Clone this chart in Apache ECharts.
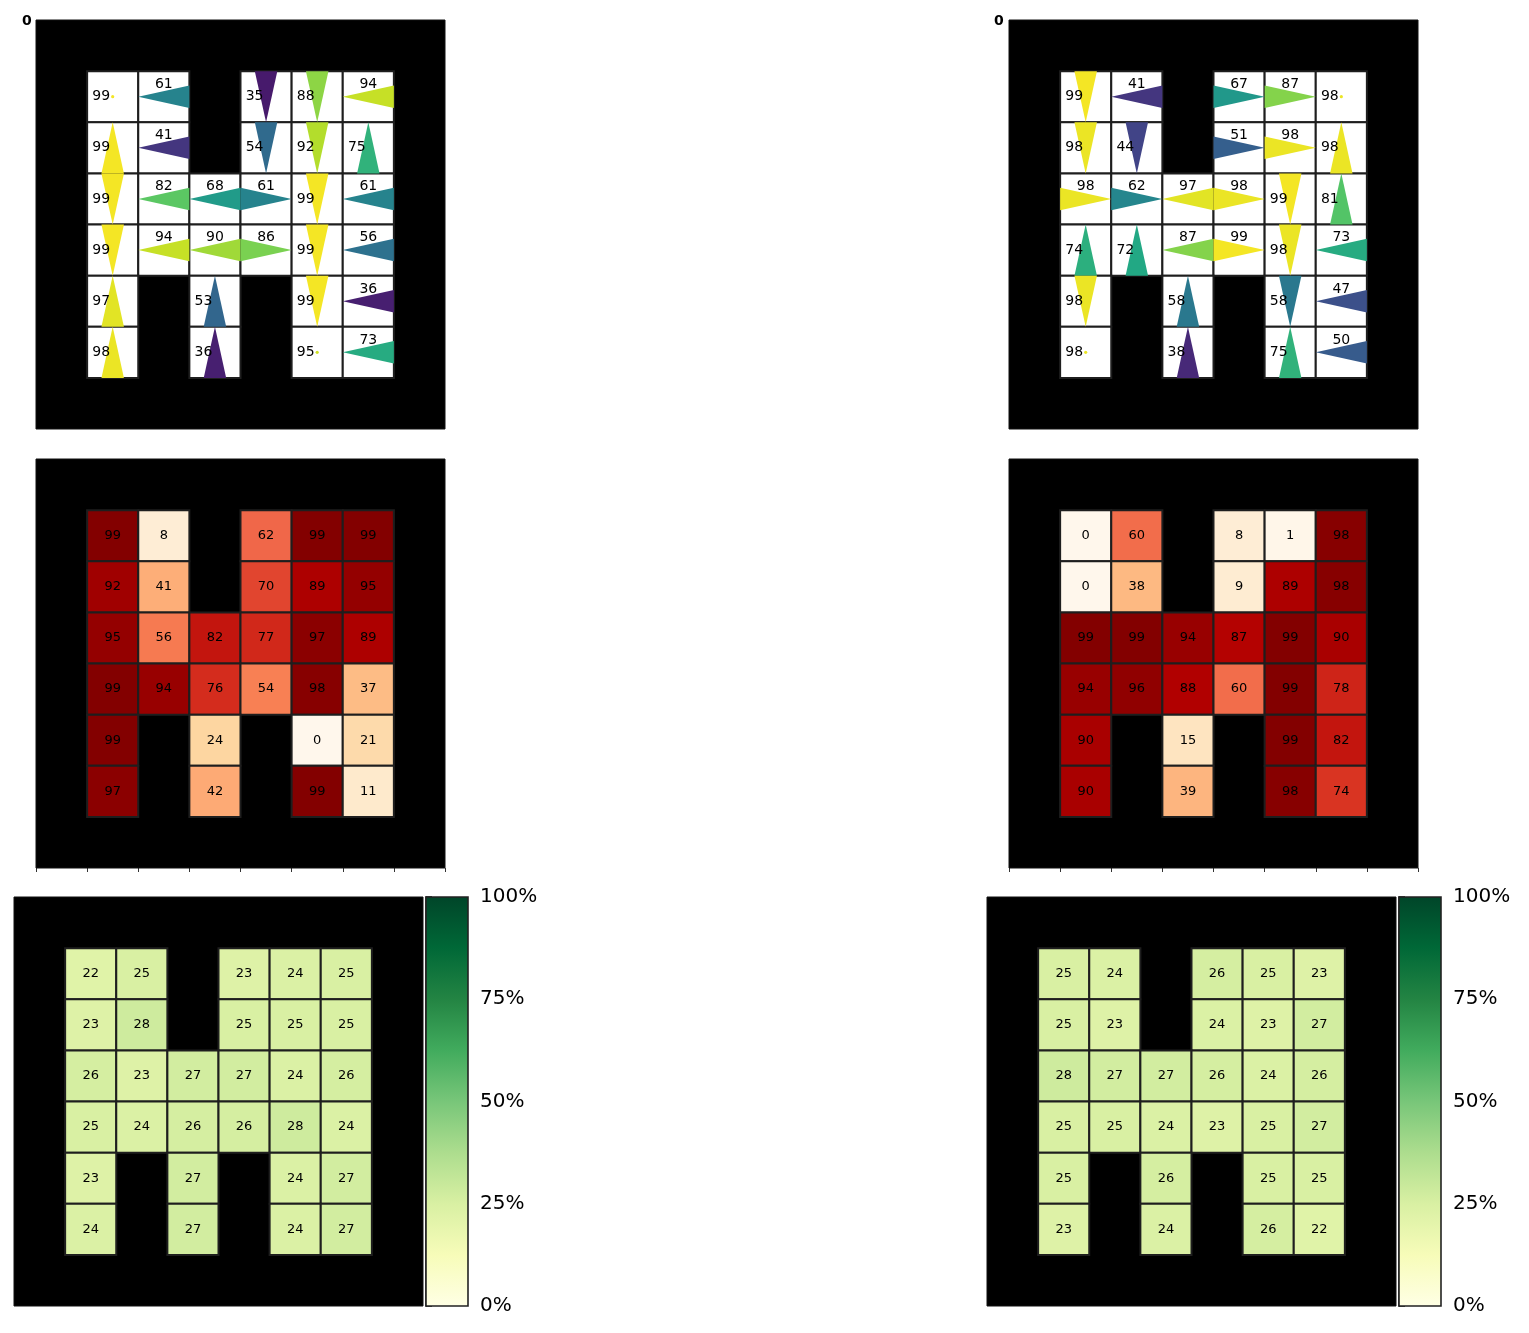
<!DOCTYPE html>
<html><head><meta charset="utf-8">
<script src="https://cdn.jsdelivr.net/npm/echarts@6/dist/echarts.min.js"></script>
<style>html,body{margin:0;padding:0;background:#fff}#chart{width:1529px;height:1333px}</style>
</head><body><div id="chart"></div>
<script>
// ---------------- DATA ----------------
const mazeRows = [
  "########",
  "#..#...#",
  "#..#...#",
  "#......#",
  "#......#",
  "#.#.#..#",
  "#.#.#..#",
  "########"
];
// Policy panels (interior 6x6, top row first); null = wall
const policyLeftProb = [
  [99, 61, null, 35, 88, 94],
  [99, 41, null, 54, 92, 75],
  [99, 82, 68, 61, 99, 61],
  [99, 94, 90, 86, 99, 56],
  [97, null, 53, null, 99, 36],
  [98, null, 36, null, 95, 73]
];
const policyLeftAction = [
  ["S", "L", null, "D", "D", "L"],
  ["U", "L", null, "D", "D", "U"],
  ["D", "L", "L", "R", "D", "L"],
  ["D", "L", "L", "R", "D", "L"],
  ["U", null, "U", null, "D", "L"],
  ["U", null, "U", null, "S", "L"]
];
const policyRightProb = [
  [99, 41, null, 67, 87, 98],
  [98, 44, null, 51, 98, 98],
  [98, 62, 97, 98, 99, 81],
  [74, 72, 87, 99, 98, 73],
  [98, null, 58, null, 58, 47],
  [98, null, 38, null, 75, 50]
];
const policyRightAction = [
  ["D", "L", null, "R", "R", "S"],
  ["D", "D", null, "R", "R", "U"],
  ["R", "R", "L", "R", "D", "U"],
  ["U", "U", "L", "R", "D", "L"],
  ["D", null, "U", null, "D", "L"],
  ["S", null, "U", null, "U", "L"]
];
// Value panels (OrRd)
const valueLeft = [
  [99, 8, null, 62, 99, 99],
  [92, 41, null, 70, 89, 95],
  [95, 56, 82, 77, 97, 89],
  [99, 94, 76, 54, 98, 37],
  [99, null, 24, null, 0, 21],
  [97, null, 42, null, 99, 11]
];
const valueRight = [
  [0, 60, null, 8, 1, 98],
  [0, 38, null, 9, 89, 98],
  [99, 99, 94, 87, 99, 90],
  [94, 96, 88, 60, 99, 78],
  [90, null, 15, null, 99, 82],
  [90, null, 39, null, 98, 74]
];
// Visit share panels (YlGn, percent)
const visitLeft = [
  [22, 25, null, 23, 24, 25],
  [23, 28, null, 25, 25, 25],
  [26, 23, 27, 27, 24, 26],
  [25, 24, 26, 26, 28, 24],
  [23, null, 27, null, 24, 27],
  [24, null, 27, null, 24, 27]
];
const visitRight = [
  [25, 24, null, 26, 25, 23],
  [25, 23, null, 24, 23, 27],
  [28, 27, 27, 26, 24, 26],
  [25, 25, 24, 23, 25, 27],
  [25, null, 26, null, 25, 25],
  [23, null, 24, null, 26, 22]
];
const colorbarRange = [0, 100];
const cornerLabel = "0";

// ---------------- COLORMAPS ----------------
const VIRIDIS = ['#440154','#482475','#414487','#355f8d','#2a788e','#21918c','#22a884','#44bf70','#7ad151','#bddf26','#fde725'];
const ORRD = ['#fff7ec','#fee8c8','#fdd49e','#fdbb84','#fc8d59','#ef6548','#d7301f','#b30000','#7f0000'];
const YLGN = ['#ffffe5','#f7fcb9','#d9f0a3','#addd8e','#78c679','#41ab5d','#238443','#006837','#004529'];
function hex2rgb(h){return [parseInt(h.substr(1,2),16),parseInt(h.substr(3,2),16),parseInt(h.substr(5,2),16)];}
function sample(stops, t){
  t = Math.max(0, Math.min(1, t));
  const f = t*(stops.length-1); const i = Math.min(Math.floor(f), stops.length-2); const u = f-i;
  const a = hex2rgb(stops[i]), b = hex2rgb(stops[i+1]);
  return 'rgb('+a.map((v,k)=>Math.round(v+(b[k]-v)*u)).join(',')+')';
}

const FONT = 'DejaVu Sans';
const allCells = [];
for (let r = 0; r < 8; r++) for (let c = 0; c < 8; c++) allCells.push([c, r]);
const openCells = allCells.filter(([c, r]) => mazeRows[r][c] !== '#');

function wallSeries(gi) {
  return {
    type: 'custom', xAxisIndex: gi, yAxisIndex: gi, data: [[0, 0, 8, 8]], silent: true, z: 1,
    renderItem(params, api) {
      const p0 = api.coord([api.value(0), api.value(1)]);
      const p1 = api.coord([api.value(2), api.value(3)]);
      return { type: 'rect', shape: { x: p0[0], y: p0[1], width: p1[0] - p0[0], height: p1[1] - p0[1] },
        style: { fill: '#000', stroke: '#111', lineWidth: 1 } };
    }
  };
}

function cellSeries(gi, vals, stops, vmin, vmax, fontSize) {
  return {
    type: 'custom', xAxisIndex: gi, yAxisIndex: gi, data: openCells, silent: true, z: 2,
    renderItem(params, api) {
      const c = api.value(0), r = api.value(1);
      const p0 = api.coord([c, r]), p1 = api.coord([c + 1, r + 1]);
      const x = p0[0], y = p0[1], w = p1[0] - p0[0], h = p1[1] - p0[1];
      const v = vals ? vals[r - 1][c - 1] : null;
      const fill = vals ? sample(stops, (v - vmin) / (vmax - vmin)) : '#fff';
      const children = [{ type: 'rect', shape: { x, y, width: w, height: h }, style: { fill, stroke: '#1e1e1e', lineWidth: 2 } }];
      if (vals && fontSize) {
        children.push({ type: 'text', style: { text: String(v), x: x + w / 2, y: y + h / 2, align: 'center', verticalAlign: 'middle', fontSize, fontFamily: FONT, fill: '#000' } });
      }
      return { type: 'group', children };
    }
  };
}

function arrowSeries(gi, probs, acts) {
  return {
    type: 'custom', xAxisIndex: gi, yAxisIndex: gi, data: openCells, silent: true, z: 3,
    renderItem(params, api) {
      const c = api.value(0), r = api.value(1);
      const p0 = api.coord([c, r]), p1 = api.coord([c + 1, r + 1]);
      const x = p0[0], y = p0[1], w = p1[0] - p0[0], h = p1[1] - p0[1];
      const cx = x + w / 2, cy = y + h / 2;
      const v = probs[r - 1][c - 1], a = acts[r - 1][c - 1];
      const col = sample(VIRIDIS, (v - 30) / 70);
      const hw = 0.22 * w, hh = 0.22 * h;
      let pts = null;
      if (a === 'L') pts = [[x, cy], [x + w, cy - hh], [x + w, cy + hh]];
      if (a === 'R') pts = [[x + w, cy], [x, cy - hh], [x, cy + hh]];
      if (a === 'U') pts = [[cx, y], [cx - hw, y + h], [cx + hw, y + h]];
      if (a === 'D') pts = [[cx, y + h], [cx - hw, y], [cx + hw, y]];
      const children = [];
      if (pts) children.push({ type: 'polygon', shape: { points: pts }, style: { fill: col } });
      else children.push({ type: 'circle', shape: { cx, cy, r: 1.6 }, style: { fill: col } });
      let tx = cx - 0.225 * w, ty = cy;
      if (a === 'L' || a === 'R') { tx = cx; ty = cy - 0.24 * h; }
      children.push({ type: 'text', style: { text: String(v), x: tx, y: ty, align: 'center', verticalAlign: 'middle', fontSize: 14, fontFamily: FONT, fill: '#000' } });
      return { type: 'group', children };
    }
  };
}

function colorbarSeries(gi, stops) {
  return {
    type: 'custom', xAxisIndex: gi, yAxisIndex: gi, data: [[0, colorbarRange[0], 1, colorbarRange[1]]], silent: true,
    renderItem(params, api) {
      const p0 = api.coord([api.value(0), api.value(3)]);
      const p1 = api.coord([api.value(2), api.value(1)]);
      const gs = stops.map((s, i) => ({ offset: i / (stops.length - 1), color: s }));
      return { type: 'rect', shape: { x: p0[0], y: p0[1], width: p1[0] - p0[0], height: p1[1] - p0[1] },
        style: { fill: new echarts.graphic.LinearGradient(0, 1, 0, 0, gs), stroke: '#222', lineWidth: 1.6 } };
    }
  };
}

const S = 409;
const grids = [
  { left: 36, top: 20, width: S, height: S },
  { left: 1009, top: 20, width: S, height: S },
  { left: 36, top: 459, width: S, height: S },
  { left: 1009, top: 459, width: S, height: S },
  { left: 14, top: 897, width: S, height: S },
  { left: 987, top: 897, width: S, height: S },
  { left: 426, top: 897, width: 42, height: S },
  { left: 1399, top: 897, width: 42, height: S }
];
const xAxes = [], yAxes = [];
for (let i = 0; i < 6; i++) {
  const ticks = (i === 2 || i === 3);
  xAxes.push({ gridIndex: i, type: 'value', min: 0, max: 8, interval: 1, show: ticks, position: 'bottom',
    axisLine: { show: false, onZero: false }, axisLabel: { show: false }, splitLine: { show: false },
    axisTick: { show: ticks, length: 4, lineStyle: { color: '#333', width: 1 } } });
  yAxes.push({ gridIndex: i, type: 'value', min: 0, max: 8, inverse: true, show: false, splitLine: { show: false } });
}
for (let i = 6; i < 8; i++) {
  xAxes.push({ gridIndex: i, type: 'value', min: 0, max: 1, show: false });
  yAxes.push({ gridIndex: i, type: 'value', min: colorbarRange[0], max: colorbarRange[1], interval: 25, position: 'right',
    axisLine: { show: true, lineStyle: { color: '#222', width: 1.6 } },
    axisTick: { show: true, inside: false, length: 6, lineStyle: { color: '#222', width: 1.6 } },
    axisLabel: { formatter: '{value}%', fontSize: 20, color: '#000', margin: 12, fontFamily: FONT },
    splitLine: { show: false } });
}

const series = [];
const panelDefs = [
  { gi: 0, arrows: [policyLeftProb, policyLeftAction] },
  { gi: 1, arrows: [policyRightProb, policyRightAction] },
  { gi: 2, vals: valueLeft, stops: ORRD },
  { gi: 3, vals: valueRight, stops: ORRD },
  { gi: 4, vals: visitLeft, stops: YLGN },
  { gi: 5, vals: visitRight, stops: YLGN }
];
panelDefs.forEach(p => {
  series.push(wallSeries(p.gi));
  if (p.arrows) {
    series.push(cellSeries(p.gi, null));
    series.push(arrowSeries(p.gi, p.arrows[0], p.arrows[1]));
  } else {
    series.push(cellSeries(p.gi, p.vals, p.stops, 0, 100, 13));
  }
});
series.push(colorbarSeries(6, YLGN));
series.push(colorbarSeries(7, YLGN));

const chart = echarts.init(document.getElementById('chart'), null, { renderer: 'canvas' });
chart.setOption({
  animation: false,
  backgroundColor: '#fff',
  textStyle: { fontFamily: FONT },
  grid: grids,
  xAxis: xAxes,
  yAxis: yAxes,
  graphic: [
    { type: 'text', left: 22, top: 14, style: { text: cornerLabel, fontSize: 14, fontWeight: 'bold', fontFamily: FONT, fill: '#000' } },
    { type: 'text', left: 994, top: 14, style: { text: cornerLabel, fontSize: 14, fontWeight: 'bold', fontFamily: FONT, fill: '#000' } }
  ],
  series
});
</script></body></html>
